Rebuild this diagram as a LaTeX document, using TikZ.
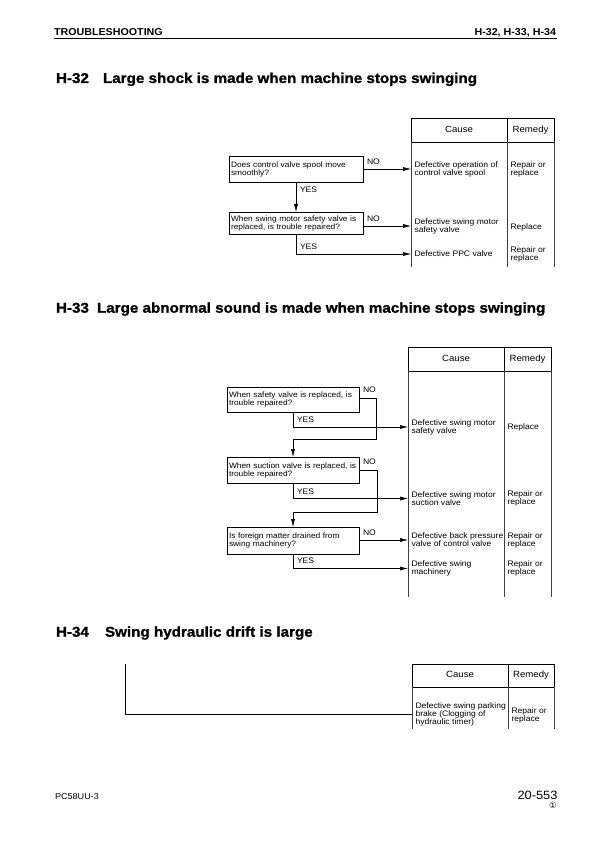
\documentclass[tikz,border=0pt]{standalone}
\usepackage{fontspec}
\setmainfont{Liberation Sans}[FakeStretch=1.07]
\newfontfamily\ttlfont{Liberation Sans Bold}[FakeStretch=1.07, FakeBold=1.2]
\newfontfamily\dejavu{DejaVu Sans}
\usetikzlibrary{arrows.meta}
\newcommand\smtxt{\fontsize{8}{8}\selectfont}
\newcommand\bxtxt{\fontsize{7.8}{8}\selectfont}
\newcommand\hdtxt{\fontsize{9}{9}\selectfont}
\newcommand\ttltxt{\ttlfont\fontsize{14.2}{14.2}\selectfont}
\begin{document}
\begin{tikzpicture}[x=1pt,y=-1pt,
  every node/.style={inner sep=0pt, outer sep=0pt},
  qbox/.style={draw, line width=0.6pt, text width=130pt, inner xsep=2pt, minimum height=26pt, align=left, font=\bxtxt},
  qboxb/.style={qbox, text width=128pt},
  txt/.style={font=\smtxt, align=left, anchor=west, inner xsep=3.5pt},
  lbl/.style={font=\smtxt, anchor=west},
  arr/.style={line width=0.5pt, -{Latex[length=8pt,width=4pt]}},
  ln/.style={line width=0.5pt},
  hdr/.style={draw, line width=0.8pt, font=\hdtxt, text height=6.6pt, text depth=1.9pt},
  col/.style={line width=0.5pt, draw=black!75},
  ttl/.style={font=\ttltxt, anchor=base west}
]
\useasboundingbox (0,0) rectangle (595,842);

% page header
\node[font=\fontsize{10}{10}\selectfont\bfseries, anchor=base west] (hl) at (54,35.5) {TROUBLESHOOTING};
\node[font=\fontsize{10}{10}\selectfont\bfseries, anchor=base east] (hr) at (556,35.5) {H-32, H-33, H-34};
\draw[line width=1pt] (hl.base west |- 0,38.3) coordinate (rl) -- (557,38.3) coordinate (rr);

% ================= H-32 =================
\node[ttl] (t32a) at (56,83) {H-32};
\node[ttl] (t32b) at (103,83) {Large shock is made when machine stops swinging};

\node[hdr, minimum width=96pt, minimum height=24pt] (h32c) at (459,130) {Cause};
\node[hdr, minimum width=47pt, minimum height=24pt] (h32r) at (530.5,130) {Remedy};
\draw[col] (h32c.south west) -- ++(0,125);
\draw[col] (h32c.south east) -- ++(0,125);
\draw[col] (h32r.south east) -- ++(0,125);

\node[qbox] (b1) at (296,169) {\mbox{Does control valve spool move}\\\mbox{smoothly?}};
\node[qbox, minimum height=22pt] (b2) at (296,223) {\mbox{When swing motor safety valve is}\\\mbox{replaced, is trouble repaired?}};

\node[txt] (c1) at (411,169) {Defective operation of\\control valve spool};
\node[txt] (c2) at (411,226) {Defective swing motor\\safety valve};
\node[txt] (c3) at (411,254) {Defective PPC valve};
\node[txt] (r1) at (507,169) {Repair or\\replace};
\node[txt] (r2) at (507,227) {Replace};
\node[txt] (r3) at (507,254) {Repair or\\replace};

\draw[arr] (b1.east) -- (c1.west);
\draw[arr] (b2.east |- c2.west) -- (c2.west);
\draw[arr] (b1.south) -- (b2.north);
\draw[arr] (b2.south) |- (c3.west);
\node[lbl] (n1) at (367,161.5) {NO};
\node[lbl] (y1) at (300,190) {YES};
\node[lbl] (n2) at (367,218.5) {NO};
\node[lbl] (y2) at (300,246.5) {YES};

% ================= H-33 =================
\node[ttl] (t33a) at (56,312.7) {H-33};
\node[ttl] (t33b) at (97,312.7) {Large abnormal sound is made when machine stops swinging};

\node[hdr, minimum width=96pt, minimum height=24pt] (h33c) at (456,359) {Cause};
\node[hdr, minimum width=47pt, minimum height=24pt] (h33r) at (527.5,359) {Remedy};
\draw[col] (h33c.south west) -- ++(0,226);
\draw[col] (h33c.south east) -- ++(0,226);
\draw[col] (h33r.south east) -- ++(0,226);

\node[qboxb, minimum height=25pt] (bA) at (293,399.5) {\mbox{When safety valve is replaced, is}\\\mbox{trouble repaired?}};
\node[qboxb] (bB) at (293,470) {\mbox{When suction valve is replaced, is}\\\mbox{trouble repaired?}};
\node[qboxb, minimum height=27pt] (bC) at (293,540.5) {\mbox{Is foreign matter drained from}\\\mbox{swing machinery?}};

\node[txt] (cA) at (408,427) {Defective swing motor\\safety valve};
\node[txt] (cB) at (408,498.5) {Defective swing motor\\suction valve};
\node[txt] (cC) at (408,540) {Defective back pressure\\valve of control valve};
\node[txt] (cD) at (408,568.5) {Defective swing\\machinery};
\node[txt] (rA) at (504,427) {Replace};
\node[txt] (rB) at (504,498.5) {Repair or\\replace};
\node[txt] (rC) at (504,540) {Repair or\\replace};
\node[txt] (rD) at (504,568.5) {Repair or\\replace};

\coordinate (nA) at (376,398);
\coordinate (kA) at (376,439);
\coordinate (nB) at (377,470);
\coordinate (kB) at (377,512);
\draw[ln] (bA.east |- nA) -- (nA);
\draw[arr] (nA) -- (kA) -| (bB.north);
\draw[arr] (bA.south) |- (cA.west);
\draw[ln] (bB.east |- nB) -- (nB);
\draw[arr] (nB) -- (kB) -| (bC.north);
\draw[arr] (bB.south) |- (cB.west);
\draw[arr] (bC.east |- cC.west) -- (cC.west);
\draw[arr] (bC.south) |- (cD.west);

\node[lbl] (nAl) at (363,390) {NO};
\node[lbl] (yAl) at (297,420) {YES};
\node[lbl] (nBl) at (363,462) {NO};
\node[lbl] (yBl) at (297,491.5) {YES};
\node[lbl] (nCl) at (363,533) {NO};
\node[lbl] (yCl) at (297,561) {YES};

% ================= H-34 =================
\node[ttl] (t34a) at (56,636.7) {H-34};
\node[ttl] (t34b) at (105,636.7) {Swing hydraulic drift is large};

\node[hdr, minimum width=96pt, minimum height=23pt] (h34c) at (460,675.5) {Cause};
\node[hdr, minimum width=46pt, minimum height=23pt] (h34r) at (531,675.5) {Remedy};
\draw[col] (h34c.south west) -- ++(0,42);
\draw[col] (h34c.south east) -- ++(0,42);
\draw[col] (h34r.south east) -- ++(0,42);

\node[txt] (cE) at (412,714.5) {Defective swing parking\\brake (Clogging of\\hydraulic timer)};
\node[txt] (rE) at (508,715.5) {Repair or\\replace};
\coordinate (s34) at (125,664);
\draw[ln] (s34) |- (cE.west);

% footer
\node[font=\fontsize{8.5}{8.5}\selectfont, anchor=base west] (fl) at (55,799) {PC58UU-3};
\node[font=\fontsize{12}{12}\selectfont, anchor=base east] (fr) at (557.5,799.3) {20-553};
\node[font=\dejavu\fontsize{8.5}{8.5}\selectfont] (fc) at (553,805.5) {①};
\end{tikzpicture}
\end{document}
